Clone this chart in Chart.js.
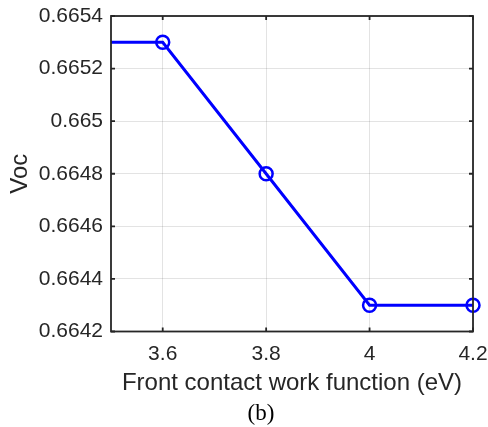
<!DOCTYPE html>
<html>
<head>
<meta charset="utf-8">
<script src="https://cdn.jsdelivr.net/npm/chart.js@4/dist/chart.umd.min.js"></script>
<style>
  html, body { margin: 0; padding: 0; background: #fff; }
  #wrap { width: 488px; height: 427px; }
</style>
</head>
<body>
<div id="wrap"><canvas id="c"></canvas></div>
<script>
// Open-circuit voltage versus front contact work function
const workFunction = [3.4, 3.6, 3.8, 4.0, 4.2];
const vocValues = [0.6653, 0.6653, 0.6648, 0.6643, 0.6643];
const markerRadius = [0, 6.5, 6.5, 6.5, 6.5];

const xTickValues = [3.6, 3.8, 4.0, 4.2];
const xTickLabels = ['3.6', '3.8', '4', '4.2'];
const yTickValues = [0.6642, 0.6644, 0.6646, 0.6648, 0.665, 0.6652, 0.6654];
const yTickLabels = ['0.6642', '0.6644', '0.6646', '0.6648', '0.665', '0.6652', '0.6654'];
const panelLabel = '(b)';

const axisColor = '#262626';
const sans = "'Liberation Sans', Arial, Helvetica, sans-serif";

// Box frame around the plot area with inward tick marks on every side
const framePlugin = {
  id: 'frame',
  afterDatasetsDraw(chart) {
    const { ctx, chartArea: a, scales } = chart;
    const len = 4;
    ctx.save();
    ctx.strokeStyle = axisColor;
    ctx.lineWidth = 1.8;
    ctx.beginPath();
    xTickValues.forEach(v => {
      const px = scales.x.getPixelForValue(v);
      ctx.moveTo(px, a.bottom); ctx.lineTo(px, a.bottom - len);
      ctx.moveTo(px, a.top); ctx.lineTo(px, a.top + len);
    });
    yTickValues.forEach(v => {
      const py = scales.y.getPixelForValue(v);
      ctx.moveTo(a.left, py); ctx.lineTo(a.left + len, py);
      ctx.moveTo(a.right, py); ctx.lineTo(a.right - len, py);
    });
    ctx.stroke();
    ctx.strokeRect(a.left, a.top, a.right - a.left, a.bottom - a.top);
    ctx.restore();
  }
};

// Panel caption below the axis title
const captionPlugin = {
  id: 'caption',
  afterDraw(chart) {
    const { ctx } = chart;
    ctx.save();
    ctx.fillStyle = '#000';
    ctx.font = "23px 'Liberation Serif', 'Times New Roman', serif";
    ctx.textAlign = 'center';
    ctx.textBaseline = 'middle';
    ctx.fillText(panelLabel, 261, 414);
    ctx.restore();
  }
};

new Chart(document.getElementById('c'), {
  type: 'line',
  data: {
    datasets: [{
      data: workFunction.map((x, i) => ({ x, y: vocValues[i] })),
      borderColor: '#0000ff',
      borderWidth: 3,
      pointRadius: markerRadius,
      pointHoverRadius: markerRadius,
      pointBorderColor: '#0000ff',
      pointBackgroundColor: 'rgba(0,0,0,0)',
      pointBorderWidth: 2.5,
      tension: 0,
      fill: false,
      clip: { left: 0, right: 10, top: 10, bottom: 10 }
    }]
  },
  options: {
    responsive: true,
    maintainAspectRatio: false,
    animation: false,
    events: [],
    layout: { padding: { left: 0, right: 15, top: 16, bottom: 28 } },
    plugins: {
      legend: { display: false },
      tooltip: { enabled: false }
    },
    scales: {
      x: {
        type: 'linear',
        min: 3.5,
        max: 4.2,
        afterBuildTicks: s => { s.ticks = xTickValues.map(v => ({ value: v })); },
        afterFit: s => { s.height = 67.5; s.paddingLeft = 0; s.paddingRight = 0; },
        ticks: {
          color: axisColor,
          font: { family: sans, size: 21 },
          padding: 10,
          maxRotation: 0,
          autoSkip: false,
          callback: (v, i) => xTickLabels[i]
        },
        grid: { color: 'rgba(38,38,38,0.13)', lineWidth: 1, drawTicks: false },
        border: { display: false },
        title: {
          display: true,
          text: 'Front contact work function (eV)',
          color: axisColor,
          font: { family: sans, size: 24 },
          padding: { top: 0, bottom: 1 }
        }
      },
      y: {
        type: 'linear',
        min: 0.6642,
        max: 0.6654,
        afterBuildTicks: s => { s.ticks = yTickValues.map(v => ({ value: v })); },
        afterFit: s => { s.width = 111; s.paddingTop = 0; s.paddingBottom = 0; },
        ticks: {
          color: axisColor,
          font: { family: sans, size: 21 },
          padding: 8,
          autoSkip: false,
          callback: (v, i) => yTickLabels[i]
        },
        grid: { color: 'rgba(38,38,38,0.13)', lineWidth: 1, drawTicks: false },
        border: { display: false },
        title: {
          display: true,
          text: 'Voc',
          color: axisColor,
          font: { family: sans, size: 24 },
          padding: { top: 6, bottom: 0 }
        }
      }
    }
  },
  plugins: [framePlugin, captionPlugin]
});
</script>
</body>
</html>
